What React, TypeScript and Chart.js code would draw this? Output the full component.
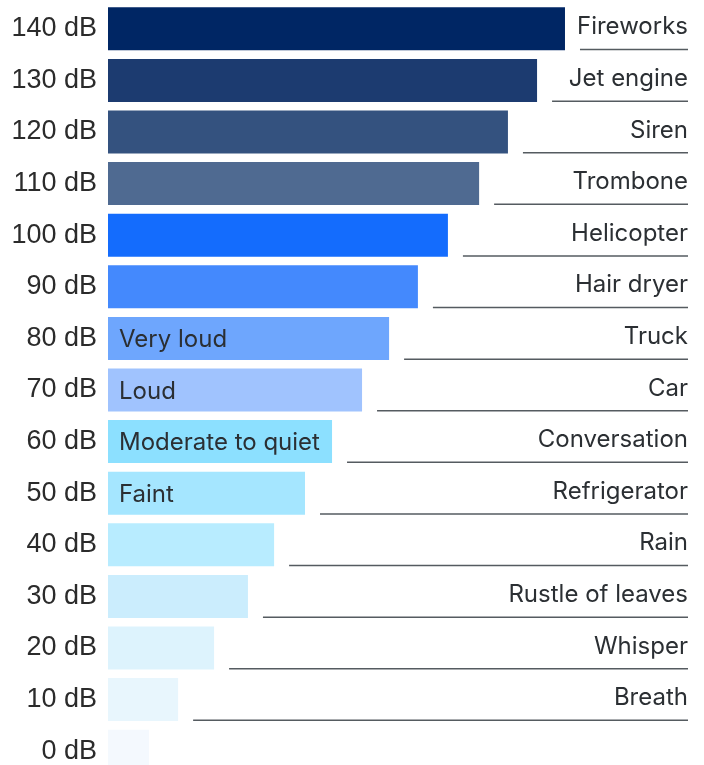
import React, { useEffect, useRef } from "react";
import { Chart, registerables } from "chart.js";

Chart.register(...registerables);

const levels = ["140 dB", "130 dB", "120 dB", "110 dB", "100 dB", "90 dB", "80 dB", "70 dB", "60 dB", "50 dB", "40 dB", "30 dB", "20 dB", "10 dB", "0 dB"];
const barValues = [140.0, 130.6, 120.8, 111.1, 100.6, 90.5, 80.8, 71.7, 61.6, 52.5, 42.1, 33.3, 21.9, 9.8, 0.0];
const sources = ["Fireworks", "Jet engine", "Siren", "Trombone", "Helicopter", "Hair dryer", "Truck", "Car", "Conversation", "Refrigerator", "Rain", "Rustle of leaves", "Whisper", "Breath", ""];
const bandLabels = ["", "", "", "", "", "", "Very loud", "Loud", "Moderate to quiet", "Faint", "", "", "", "", ""];
const barColors = ["#002664", "#1c3b70", "#34527f", "#4f6a91", "#146cfd", "#4489fd", "#6ea6fd", "#a0c3fe", "#8ce0ff", "#a5e6ff", "#b8ecff", "#cbedfd", "#ddf3fd", "#e8f6fd", "#f4f9fe"];
const axisMin = -13.8;
const axisMax = 181.4;

const labelFont = "24px Inter, 'Noto Sans', sans-serif";
const textColor = "#2b2f33";

const annotatePlugin = {
  id: "annotate",
  afterDatasetsDraw(chart: any) {
    const ctx = chart.ctx;
    const meta = chart.getDatasetMeta(0);
    const right = chart.chartArea.right;
    ctx.save();
    meta.data.forEach((bar: any, i: number) => {
      const props = bar.getProps(["x", "y", "base", "height"], true);
      const bottom = props.y + props.height / 2;
      if (sources[i]) {
        ctx.font = labelFont;
        ctx.fillStyle = textColor;
        ctx.textAlign = "right";
        ctx.textBaseline = "alphabetic";
        ctx.fillText(sources[i], right, props.y + 5.5);
        ctx.strokeStyle = "#555b60";
        ctx.lineWidth = 1.5;
        ctx.beginPath();
        ctx.moveTo(props.x + 15, bottom - 0.75);
        ctx.lineTo(right, bottom - 0.75);
        ctx.stroke();
      }
      if (bandLabels[i]) {
        ctx.font = labelFont;
        ctx.fillStyle = textColor;
        ctx.textAlign = "left";
        ctx.textBaseline = "alphabetic";
        ctx.fillText(bandLabels[i], props.base + 11, props.y + 8.5);
      }
    });
    ctx.restore();
  },
};

export default function App() {
  const ref = useRef<HTMLCanvasElement | null>(null);
  useEffect(() => {
    document.body.style.margin = "0";
    const canvas = ref.current;
    if (!canvas) return;
    const chart = new Chart(canvas, {
      type: "bar",
      data: {
        labels: levels,
        datasets: [
          {
            data: barValues,
            base: axisMin,
            backgroundColor: barColors,
            borderWidth: 0,
            categoryPercentage: 1,
            barPercentage: 0.833,
          } as any,
        ],
      },
      options: {
        indexAxis: "y",
        animation: false,
        responsive: false,
        maintainAspectRatio: false,
        layout: { padding: { top: 3, right: 16, bottom: 0, left: 0 } },
        plugins: { legend: { display: false }, tooltip: { enabled: false } },
        scales: {
          x: { display: false, min: axisMin, max: axisMax },
          y: {
            grid: { display: false, drawTicks: false },
            border: { display: false },
            afterFit(scale: any) {
              scale.width = 108;
              scale.paddingTop = 0;
              scale.paddingBottom = 0;
            },
            ticks: {
              padding: 11,
              color: "#2b2b2b",
              font: { family: "'Liberation Sans', Arial, sans-serif", size: 27 },
            },
          },
        },
      },
      plugins: [annotatePlugin],
    });
    return () => chart.destroy();
  }, []);
  return (
    <div style={{ width: 704, height: 765, overflow: "hidden" }}>
      <canvas ref={ref} width={704} height={777} style={{ display: "block" }} />
    </div>
  );
}
